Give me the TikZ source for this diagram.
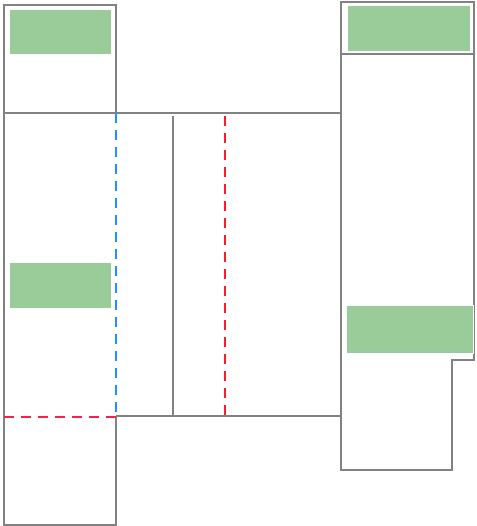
\documentclass[tikz,border=0pt]{standalone}
\usetikzlibrary{positioning}
\definecolor{frame}{RGB}{130,130,130}
\definecolor{leaf}{RGB}{153,204,153}
\definecolor{bluedash}{RGB}{30,144,255}
\definecolor{reddash}{RGB}{255,25,45}
\definecolor{pinkdash}{RGB}{250,30,75}
\tikzset{
  x=0.75pt, y=-0.75pt,
  wall/.style={draw=frame, line width=1.1pt},
  greenbox/.style={fill=leaf, draw=white, line width=0.5pt},
  cut/.style={line width=2.1pt, dash pattern=on 7.5pt off 5.25pt},
  bluecut/.style={cut, draw=bluedash},
  redcut/.style={cut, draw=reddash},
  pinkcut/.style={cut, draw=pinkdash},
}
\begin{document}
\begin{tikzpicture}
\useasboundingbox (0,0) rectangle (476,526);
% left top box
\draw[wall] (4,5) rectangle (116,113);
\fill[greenbox] (9,9) rectangle (111,54);
% left long box (right edge above the cut is the blue dashed line)
\draw[wall] (116,416) -- (116,525) -- (4,525) -- (4,113) -- (341,113);
\fill[greenbox] (9,262) rectangle (111,308);
% middle region
\draw[wall] (116,416) -- (341,416);
\draw[wall] (173,116) -- (173,416);
% right top box
\draw[wall] (341,2) rectangle (474,54);
\fill[greenbox] (347,5) rectangle (470,51);
% right big box
\draw[wall] (341,54) -- (474,54) -- (474,360) -- (452,360) -- (452,470) -- (341,470) -- cycle;
\fill[greenbox] (346,305) rectangle (473,353);
% dashed lines
\draw[bluecut] (116,113) -- (116,416);
\draw[redcut] (225,116) -- (225,416);
\draw[pinkcut] (4,417) -- (116,417);
\end{tikzpicture}
\end{document}
